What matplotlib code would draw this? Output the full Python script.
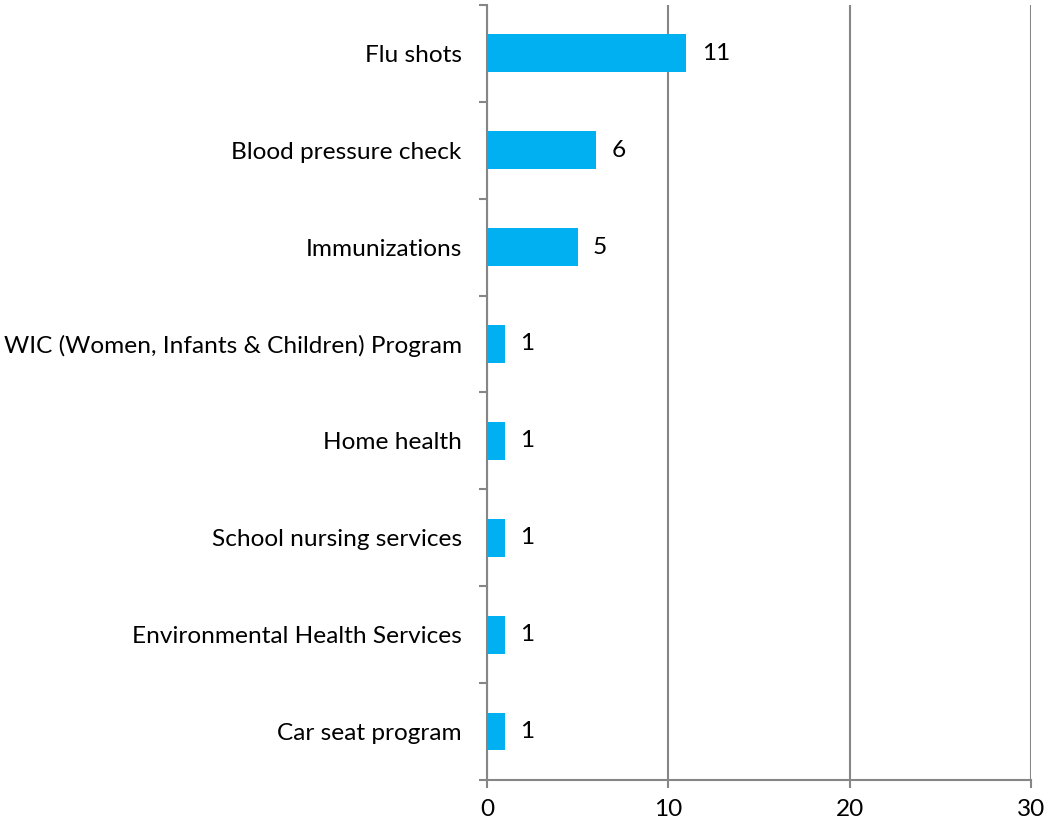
import numpy as np
from matplotlib import pyplot as plt
from matplotlib.ticker import FixedLocator

services = ['Flu shots', 'Blood pressure check', 'Immunizations',
            'WIC (Women, Infants & Children) Program', 'Home health',
            'School nursing services', 'Environmental Health Services',
            'Car seat program']
counts = [11, 6, 5, 1, 1, 1, 1, 1]
x_ticks = [0, 10, 20, 30]

bar_color = '#00B0F0'
axis_color = '#868686'
fsize = 17.6

plt.rcParams['font.family'] = ['Lato', 'DejaVu Sans']

fig = plt.figure(figsize=(10.47, 8.3), dpi=100)
ax = fig.add_axes([0.465, 0.0602, 0.52, 0.934])

pos = np.arange(len(services))[::-1]
ax.barh(pos, counts, height=0.39, color=bar_color, zorder=3)

for p, c in zip(pos, counts):
    ax.text(c + 0.85, p, str(c), va='center', ha='left', fontsize=fsize, color='black')

ax.set_xlim(0, 30)
ax.set_ylim(-0.5, len(services) - 0.5)
ax.xaxis.set_major_locator(FixedLocator(x_ticks))
ax.set_xticklabels([str(t) for t in x_ticks], fontsize=fsize)
ax.grid(axis='x', color=axis_color, linewidth=1.5, zorder=0)

ax.set_yticks(pos)
ax.set_yticklabels(services, fontsize=fsize)
ax.yaxis.set_minor_locator(FixedLocator(np.arange(-0.5, len(services), 1.0)))
ax.tick_params(axis='y', which='major', length=0, pad=18)
ax.tick_params(axis='y', which='minor', length=6, width=1.5, color=axis_color)
ax.tick_params(axis='x', length=6, width=1.5, color=axis_color, pad=8)

for side in ['top', 'right']:
    ax.spines[side].set_visible(False)
for side in ['left', 'bottom']:
    ax.spines[side].set_color(axis_color)
    ax.spines[side].set_linewidth(1.5)

fig.savefig('out.png', dpi=100)
